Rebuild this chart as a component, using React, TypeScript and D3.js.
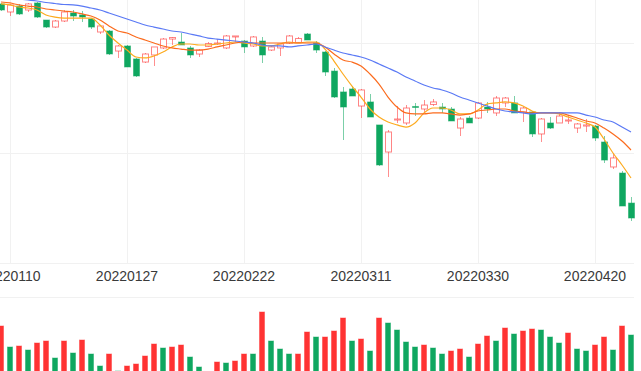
import { useRef, useEffect } from 'react';
import * as d3 from 'd3';

// trading days shown in the window (A-share calendar)
const DATES = [
  '20220107', '20220110', '20220111', '20220112', '20220113', '20220114',
  '20220117', '20220118', '20220119', '20220120', '20220121',
  '20220124', '20220125', '20220126', '20220127', '20220128',
  '20220207', '20220208', '20220209', '20220210', '20220211',
  '20220214', '20220215', '20220216', '20220217', '20220218',
  '20220221', '20220222', '20220223', '20220224', '20220225',
  '20220228', '20220301', '20220302', '20220303', '20220304',
  '20220307', '20220308', '20220309', '20220310', '20220311',
  '20220314', '20220315', '20220316', '20220317', '20220318',
  '20220321', '20220322', '20220323', '20220324', '20220325',
  '20220328', '20220329', '20220330', '20220331', '20220401',
  '20220406', '20220407', '20220408',
  '20220411', '20220412', '20220413', '20220414', '20220415',
  '20220418', '20220419', '20220420', '20220421', '20220422',
  '20220425', '20220426',
];

const OPEN = [
  33.55, 32.82, 33.36, 33.00, 33.64, 32.09, 31.45, 32.00, 32.73, 32.55, 32.18,
  31.00, 31.09, 29.27, 29.73, 28.55, 28.27, 28.91, 29.55, 30.36, 30.09,
  29.55, 29.00, 29.68, 29.91, 29.55, 30.55, 30.18, 29.73, 30.18, 29.36,
  29.55, 30.00, 30.05, 30.82, 30.00, 29.18, 27.45, 25.55, 25.82, 24.27,
  24.64, 22.55, 20.09, 23.05, 22.73, 24.23, 24.00, 24.41, 24.18, 24.00,
  22.27, 23.18, 23.18, 24.18, 23.64, 24.55, 24.55, 23.73, 23.73, 21.73,
  22.73, 22.73, 22.95, 22.27, 22.45, 22.45, 21.00, 18.73, 18.18, 15.45,
];
const CLOSE = [
  33.00, 33.46, 32.64, 33.55, 32.36, 31.45, 32.00, 32.82, 32.45, 32.36, 31.45,
  31.55, 29.00, 29.73, 27.82, 27.00, 29.00, 29.64, 30.36, 30.50, 29.82,
  28.91, 29.36, 29.95, 30.00, 30.64, 30.64, 29.64, 30.55, 28.91, 29.64,
  29.91, 30.64, 30.41, 30.27, 29.36, 27.36, 25.09, 24.18, 25.18, 25.73,
  23.27, 18.91, 21.91, 23.09, 24.09, 24.14, 24.36, 24.64, 24.00, 22.91,
  23.09, 22.73, 24.55, 24.00, 25.00, 25.00, 23.64, 24.09, 21.73, 23.09,
  22.27, 23.36, 23.00, 22.64, 22.55, 21.36, 19.36, 19.55, 15.18, 14.09,
];
const HIGH = [
  33.64, 33.55, 33.55, 33.64, 33.73, 32.09, 32.09, 33.00, 33.00, 32.91, 32.27,
  31.64, 31.18, 29.82, 29.82, 28.64, 29.09, 29.64, 30.45, 30.55, 30.91,
  29.73, 29.45, 30.09, 30.36, 30.73, 30.64, 30.27, 30.64, 30.55, 29.73,
  29.91, 30.73, 30.55, 30.91, 30.18, 29.27, 27.73, 26.00, 26.09, 25.82,
  25.36, 22.55, 22.09, 24.27, 24.36, 24.55, 24.82, 24.91, 24.55, 24.18,
  23.27, 23.36, 24.64, 24.64, 25.18, 25.09, 25.18, 24.18, 23.82, 23.18,
  23.27, 23.73, 23.45, 22.73, 23.09, 22.55, 21.55, 20.00, 18.36, 16.00,
];
const LOW = [
  32.91, 32.45, 32.55, 32.82, 32.27, 31.36, 31.36, 31.91, 32.00, 31.91, 31.27,
  30.82, 28.91, 28.64, 27.82, 26.91, 28.18, 27.91, 29.45, 29.82, 29.82,
  28.64, 28.73, 29.64, 29.82, 29.45, 30.09, 29.09, 29.64, 28.18, 29.27,
  28.82, 29.91, 30.00, 30.27, 29.09, 27.00, 25.00, 21.18, 25.18, 23.18,
  23.27, 18.82, 17.82, 22.73, 22.55, 23.36, 23.64, 24.27, 23.64, 22.91,
  21.55, 22.73, 23.09, 23.64, 23.36, 24.18, 23.64, 22.82, 21.45, 21.00,
  22.18, 22.73, 22.64, 21.82, 21.91, 21.09, 19.09, 18.55, 15.18, 13.82,
];

const MA5 = [
  33.55, 33.46, 33.27, 33.18, 33.00, 32.55, 32.36, 32.27, 32.27, 32.27, 32.27,
  31.64, 30.73, 30.00, 29.36, 28.73, 28.64, 28.82, 29.18, 29.64, 29.91,
  29.91, 29.82, 29.82, 29.91, 30.00, 30.09, 30.00, 29.91, 29.73, 29.73,
  29.91, 30.09, 30.00, 30.09, 30.09, 29.45, 28.36, 27.18, 26.09, 25.09,
  24.00, 23.27, 22.82, 22.55, 22.36, 22.73, 23.64, 24.09, 24.09, 23.91,
  23.55, 23.55, 23.91, 24.45, 24.55, 24.64, 24.55, 24.27, 23.82, 23.64,
  23.64, 23.55, 23.27, 23.00, 22.73, 22.36, 21.27, 20.00, 18.91, 17.73,
];
const MA10 = [
  33.73, 33.64, 33.46, 33.36, 33.27, 33.09, 33.00, 32.91, 32.82, 32.64, 32.45,
  32.09, 31.55, 31.09, 30.91, 30.55, 30.27, 30.00, 29.73, 29.55, 29.45,
  29.36, 29.36, 29.45, 29.64, 29.82, 30.00, 30.09, 30.00, 30.00, 30.00,
  30.00, 30.00, 30.00, 30.00, 30.00, 29.64, 29.00, 28.45, 28.27, 27.91,
  27.18, 26.27, 25.09, 24.18, 23.64, 23.55, 23.55, 23.64, 23.64, 23.55,
  23.45, 23.55, 23.82, 23.91, 24.00, 24.00, 23.82, 23.73, 23.64, 23.64,
  23.64, 23.64, 23.45, 23.18, 22.91, 22.73, 22.27, 21.73, 21.09, 20.27,
];
const MA20 = [
  34.18, 34.09, 34.00, 33.91, 33.82, 33.68, 33.59, 33.50, 33.46, 33.36, 33.18,
  33.00, 32.73, 32.45, 32.18, 31.91, 31.64, 31.45, 31.27, 31.09, 31.00,
  30.82, 30.64, 30.45, 30.36, 30.27, 30.18, 30.09, 30.00, 29.82, 29.73,
  29.73, 29.64, 29.73, 29.82, 29.91, 29.64, 29.36, 29.09, 28.91, 28.73,
  28.45, 28.09, 27.73, 27.36, 26.91, 26.55, 26.18, 25.91, 25.73, 25.45,
  25.09, 24.82, 24.55, 24.27, 24.00, 23.82, 23.73, 23.64, 23.55, 23.64,
  23.64, 23.64, 23.64, 23.64, 23.45, 23.27, 23.00, 22.82, 22.36, 21.91,
];

// volume (10k lots) and bar colour flag: 1 = red, 0 = green
const VOLUME = [
  51, 30, 31, 27, 34, 36, 19, 36, 24, 37, 23,
  11, 23, 6, 11, 13, 21, 33, 29, 30, 32,
  20, 10, 4, 15, 14, 16, 23, 23, 65, 36,
  28, 23, 23, 45, 40, 40, 46, 59, 36, 38,
  26, 59, 54, 47, 35, 30, 32, 29, 23, 26,
  28, 20, 33, 41, 36, 49, 43, 46, 48, 47,
  40, 34, 44, 28, 26, 32, 40, 27, 51, 42,
];
const VOL_UP = [
  1, 0, 1, 0, 1, 1, 0, 1, 0, 1, 0,
  0, 1, 0, 1, 1, 1, 1, 0, 1, 1,
  0, 0, 0, 1, 0, 1, 1, 0, 1, 0,
  0, 0, 1, 1, 0, 1, 1, 1, 0, 1,
  0, 1, 0, 0, 0, 0, 1, 0, 0, 1,
  1, 0, 1, 1, 0, 1, 0, 1, 1, 0,
  0, 0, 1, 0, 0, 1, 1, 0, 1, 0,
];

const TICK_LABELS = ['20220110', '20220127', '20220222', '20220311', '20220330', '20220420'];

const W = 641, H = 371;
const UP = '#ff3333';
const DOWN = '#0fa760';
const GRID = '#f1f1f1';
const MA_COLORS = ['#fdab1f', '#fb6b1d', '#5a79f5'];

export default function App() {
  const svgRef = useRef<SVGSVGElement>(null);

  useEffect(() => {
    const svg = d3.select(svgRef.current);
    svg.selectAll('*').remove();

    const x = d3.scalePoint<string>().domain(DATES).range([1, 631]);
    const y = d3.scaleLinear().domain([10, 40]).range([263, -67]);
    const yv = d3.scaleLinear().domain([0, 80]).range([377, 297]);
    const bw = 6;

    // grid
    const grid = svg.append('g').attr('shape-rendering', 'crispEdges');
    grid.selectAll('line.h').data(y.ticks(3)).join('line').attr('class', 'h')
      .attr('x1', 0).attr('x2', 634)
      .attr('y1', d => Math.round(y(d)) + 0.5).attr('y2', d => Math.round(y(d)) + 0.5)
      .attr('stroke', GRID);
    grid.selectAll('line.v').data(TICK_LABELS).join('line').attr('class', 'v')
      .attr('x1', d => (x(d) ?? 0) + 0.5).attr('x2', d => (x(d) ?? 0) + 0.5)
      .attr('y1', 0).attr('y2', y(10))
      .attr('stroke', GRID);
    grid.append('line').attr('x1', 0).attr('x2', 634)
      .attr('y1', yv(80) + 0.5).attr('y2', yv(80) + 0.5).attr('stroke', GRID);

    // x labels
    svg.append('g').selectAll('text').data(TICK_LABELS).join('text')
      .attr('x', d => x(d) ?? 0).attr('y', 281).attr('text-anchor', 'middle')
      .attr('font-family', '"Liberation Sans", Arial, sans-serif').attr('font-size', 14)
      .attr('fill', '#3a3a3a').text(d => d);

    // volume bars
    svg.append('g').selectAll('rect').data(VOLUME).join('rect')
      .attr('x', (_, i) => (x(DATES[i]) ?? 0) - bw / 2 + 0.5)
      .attr('y', d => yv(d))
      .attr('width', bw - 1)
      .attr('height', d => yv(0) - yv(d))
      .attr('fill', (_, i) => (VOL_UP[i] ? UP : DOWN))
      .attr('stroke', (_, i) => (VOL_UP[i] ? UP : DOWN))
      .attr('stroke-opacity', 0.45);

    // candles
    const candles = svg.append('g').selectAll('g').data(DATES).join('g');
    candles.append('line')
      .attr('x1', d => (x(d) ?? 0) + 0.5).attr('x2', d => (x(d) ?? 0) + 0.5)
      .attr('y1', (_, i) => y(HIGH[i])).attr('y2', (_, i) => y(LOW[i]))
      .attr('stroke', (_, i) => (CLOSE[i] >= OPEN[i] ? UP : DOWN))
      .attr('stroke-opacity', 0.55)
      .attr('shape-rendering', 'crispEdges');
    candles.append('rect')
      .attr('x', d => (x(d) ?? 0) - bw / 2 + 0.5)
      .attr('y', (_, i) => y(Math.max(OPEN[i], CLOSE[i])))
      .attr('width', bw)
      .attr('height', (_, i) => Math.max(1, Math.abs(y(OPEN[i]) - y(CLOSE[i]))))
      .attr('fill', (_, i) => (CLOSE[i] >= OPEN[i] ? '#fff' : DOWN))
      .attr('stroke', (_, i) => (CLOSE[i] >= OPEN[i] ? UP : DOWN))
      .attr('stroke-opacity', (_, i) => (CLOSE[i] >= OPEN[i] ? 0.6 : 0.5));

    // moving averages
    const line = d3.line<number>()
      .x((_, i) => x(DATES[i]) ?? 0).y(v => y(v))
      .curve(d3.curveMonotoneX);
    [MA5, MA10, MA20].forEach((s, k) => {
      svg.append('path').attr('d', line(s) ?? '')
        .attr('fill', 'none').attr('stroke', MA_COLORS[k]).attr('stroke-width', 1.2);
    });
  }, []);

  return (
    <svg
      ref={svgRef}
      width={W}
      height={H}
      viewBox={`0 0 ${W} ${H}`}
      style={{ position: 'absolute', left: 0, top: 0, background: '#fff' }}
    />
  );
}
